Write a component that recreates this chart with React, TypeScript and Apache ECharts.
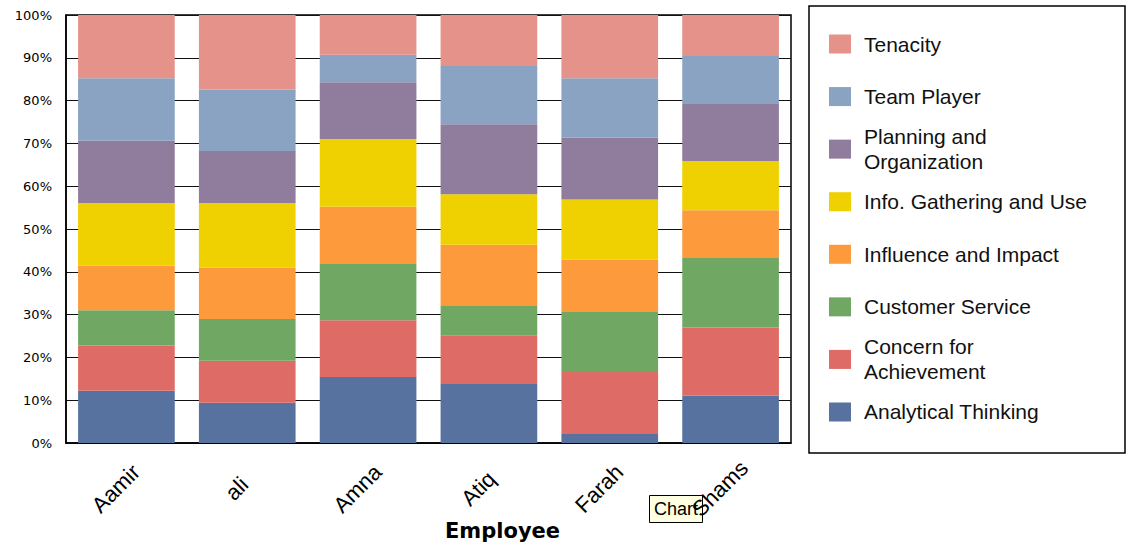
import React, { useEffect, useRef } from "react";
import * as echarts from "echarts";

// Employees along the category axis
const employees = ["Aamir", "ali", "Amna", "Atiq", "Farah", "Shams"];

// Competency shares (% of each employee's total), stacked bottom to top
const analyticalThinking = [12.2, 9.4, 15.4, 13.8, 2.1, 11.1];
const concernForAchievement = [10.6, 9.8, 13.3, 11.4, 14.5, 15.9];
const customerService = [8.2, 9.8, 13.3, 7.0, 14.0, 16.2];
const influenceAndImpact = [10.4, 12.0, 13.2, 14.1, 12.2, 11.2];
const infoGathering = [14.7, 15.1, 15.8, 11.8, 14.1, 11.5];
const planningAndOrganization = [14.5, 12.1, 13.3, 16.4, 14.5, 13.3];
const teamPlayer = [14.6, 14.4, 6.4, 13.6, 13.8, 11.2];
const tenacity = [14.8, 17.4, 9.3, 11.9, 14.8, 9.6];

const yTicks = [0, 10, 20, 30, 40, 50, 60, 70, 80, 90, 100];

const seriesDefs = [
  { name: "Analytical Thinking", data: analyticalThinking, color: "#5872A0", lines: ["Analytical Thinking"] },
  { name: "Concern for Achievement", data: concernForAchievement, color: "#DE6B65", lines: ["Concern for", "Achievement"] },
  { name: "Customer Service", data: customerService, color: "#70A863", lines: ["Customer Service"] },
  { name: "Influence and Impact", data: influenceAndImpact, color: "#FC9A3C", lines: ["Influence and Impact"] },
  { name: "Info. Gathering and Use", data: infoGathering, color: "#EFD000", lines: ["Info. Gathering and Use"] },
  { name: "Planning and Organization", data: planningAndOrganization, color: "#907C9C", lines: ["Planning and", "Organization"] },
  { name: "Team Player", data: teamPlayer, color: "#8AA3C2", lines: ["Team Player"] },
  { name: "Tenacity", data: tenacity, color: "#E4928A", lines: ["Tenacity"] },
];

const SANS = "'Liberation Sans', Arial, sans-serif";
const WIDE = "'DejaVu Sans', Verdana, sans-serif";

// Legend rows: evenly spaced inside the framed box on the right
const LEGEND_FIRST_CENTER = 46;
const LEGEND_ROW_STEP = 52.57;
const LEGEND_LINE_HEIGHT = 25;

export default function App() {
  const ref = useRef<HTMLDivElement>(null);

  useEffect(() => {
    if (!ref.current) return;
    const chart = echarts.init(ref.current, undefined, { renderer: "svg" });

    const legendRows = [...seriesDefs].reverse();
    const legends = legendRows.map((s, i) => {
      const center = LEGEND_FIRST_CENTER + i * LEGEND_ROW_STEP;
      const h = s.lines.length * LEGEND_LINE_HEIGHT;
      return {
        orient: "vertical",
        left: 829,
        top: center - h / 2,
        padding: 0,
        itemWidth: 22,
        itemHeight: 19,
        icon: "rect",
        selectedMode: false,
        data: [s.name],
        formatter: () => s.lines.map((l) => `{t|${l}}`).join("\n"),
        textStyle: {
          fontFamily: SANS,
          fontSize: 21,
          color: "#111",
          rich: {
            t: {
              fontFamily: SANS,
              fontSize: 21,
              lineHeight: LEGEND_LINE_HEIGHT,
              color: "#111",
              padding: [0, 0, 0, 8],
            },
          },
        },
      };
    });

    chart.setOption({
      animation: false,
      backgroundColor: "#fff",
      grid: {
        left: 66,
        top: 15,
        width: 725,
        height: 428,
        show: true,
        borderColor: "#000",
        borderWidth: 1.5,
        backgroundColor: "transparent",
      },
      title: {
        text: "Employee",
        left: 445,
        top: 520,
        padding: 0,
        textStyle: { fontFamily: WIDE, fontWeight: "bold", fontSize: 21, color: "#000" },
      },
      legend: legends,
      xAxis: {
        type: "category",
        data: employees,
        axisLine: { show: true, lineStyle: { color: "#000", width: 1.5 } },
        axisTick: { show: false },
        axisLabel: {
          rotate: 45,
          align: "center",
          verticalAlign: "middle",
          margin: 35,
          padding: [0, 30, 0, 0],
          fontFamily: SANS,
          fontSize: 22,
          color: "#000",
          interval: 0,
        },
      },
      yAxis: {
        type: "value",
        min: yTicks[0],
        max: yTicks[yTicks.length - 1],
        interval: yTicks[1] - yTicks[0],
        axisLine: { show: true, lineStyle: { color: "#000", width: 1.5 } },
        axisTick: { show: false },
        splitLine: { show: true, lineStyle: { color: "#111", width: 1.2 } },
        axisLabel: {
          formatter: "{value}%",
          margin: 14,
          fontFamily: WIDE,
          fontSize: 13,
          color: "#000",
        },
      },
      series: seriesDefs.map((s) => ({
        name: s.name,
        type: "bar",
        stack: "total",
        barCategoryGap: "20%",
        data: s.data,
        itemStyle: { color: s.color },
        emphasis: { disabled: true },
      })),
      graphic: [
        {
          type: "rect",
          shape: { x: 809, y: 6, width: 316, height: 447 },
          style: { fill: "none", stroke: "#000", lineWidth: 1.5 },
          silent: true,
        },
        {
          type: "group",
          silent: true,
          children: [
            {
              type: "rect",
              shape: { x: 649.5, y: 495.5, width: 53, height: 27 },
              style: { fill: "#FFFFE1", stroke: "#000", lineWidth: 1 },
            },
            {
              type: "text",
              x: 676,
              y: 509,
              style: {
                text: "Chart",
                fontFamily: SANS,
                fontSize: 18,
                fill: "#000",
                align: "center",
                verticalAlign: "middle",
              },
            },
          ],
        },
      ],
    });

    return () => chart.dispose();
  }, []);

  return (
    <div
      ref={ref}
      style={{ position: "fixed", left: 0, top: 0, width: 1129, height: 546, background: "#fff" }}
    />
  );
}
